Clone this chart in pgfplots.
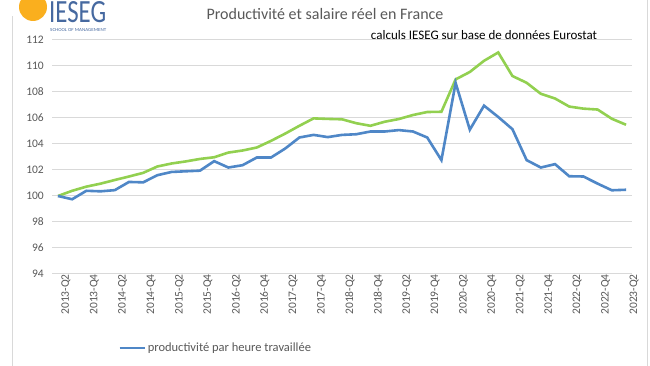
\documentclass[border=0pt]{standalone}
\usepackage{fontspec}
\setmainfont{Carlito}
\usepackage{graphicx}
\usepackage{pgfplots}
\usepackage{pgfplotstable}
\pgfplotsset{compat=1.18}
\definecolor{prodblue}{RGB}{79,135,199}
\definecolor{salgreen}{RGB}{146,208,80}
\definecolor{txtgray}{RGB}{89,89,89}
\definecolor{gridgray}{RGB}{217,217,217}
\definecolor{logoblue}{RGB}{70,105,160}
\definecolor{logoorange}{RGB}{250,175,30}

\pgfplotstableread{
i prod sal
0 100.00 100.00
1 99.75 100.40
2 100.40 100.72
3 100.36 100.95
4 100.45 101.23
5 101.08 101.50
6 101.05 101.78
7 101.60 102.27
8 101.85 102.50
9 101.90 102.66
10 101.95 102.85
11 102.68 102.98
12 102.19 103.34
13 102.37 103.50
14 102.96 103.73
15 102.96 104.24
16 103.65 104.80
17 104.50 105.40
18 104.70 105.97
19 104.53 105.93
20 104.70 105.90
21 104.75 105.60
22 104.96 105.40
23 104.96 105.71
24 105.07 105.92
25 104.96 106.23
26 104.50 106.46
27 102.76 106.48
28 108.70 108.97
29 105.10 109.54
30 106.95 110.40
31 106.08 111.04
32 105.14 109.23
33 102.76 108.71
34 102.19 107.86
35 102.45 107.50
36 101.52 106.88
37 101.50 106.72
38 100.95 106.65
39 100.44 105.94
40 100.48 105.48
}\datatable

\begin{document}
\begin{tikzpicture}[x=1pt,y=1pt]
\useasboundingbox (0,0) rectangle (650,366);
\fill[white] (0,0) rectangle (650,366);
% frame
\draw[gridgray, line width=1pt] (12.5,0) -- (12.5,350);
\draw[gridgray, line width=1pt] (647,0) -- (647,366);
% logo
\fill[logoorange] (33,359) circle (14);
\node[anchor=south west, inner sep=0, text=logoblue] at (49,343) {\resizebox{57pt}{21pt}{IESEG}};
\node[anchor=north west, inner sep=0, text=logoblue] at (50,338) {\resizebox{56pt}{3pt}{SCHOOL OF MANAGEMENT}};
% titles
\node[text=txtgray, font=\fontsize{16}{19}\selectfont] at (325,352) {Productivité et salaire réel en France};
\node[text=black, font=\fontsize{13}{15}\selectfont] at (484,331) {calculs IESEG sur base de données Eurostat};
\begin{axis}[
  at={(52pt,92pt)}, anchor=south west,
  scale only axis, width=580pt, height=234pt,
  xmin=-0.42, xmax=40.42, ymin=94, ymax=112,
  axis line style={draw=none},
  major tick length=0pt,
  ytick={94,96,...,112},
  ymajorgrids, grid style={gridgray, line width=1pt},
  xtick={0,2,...,40},
  xticklabels={2013-Q2,2013-Q4,2014-Q2,2014-Q4,2015-Q2,2015-Q4,2016-Q2,2016-Q4,2017-Q2,2017-Q4,2018-Q2,2018-Q4,2019-Q2,2019-Q4,2020-Q2,2020-Q4,2021-Q2,2021-Q4,2022-Q2,2022-Q4,2023-Q2},
  xticklabel style={rotate=90, anchor=east, font=\fontsize{11.5}{13}\selectfont, text=txtgray, inner sep=0pt, yshift=-8pt},
  yticklabel style={font=\fontsize{11.5}{13}\selectfont, text=txtgray, inner sep=0pt, anchor=east, xshift=-8pt},
  /pgf/number format/assume math mode=true,
  legend style={at={(axis description cs:0.1138,-0.316)}, anchor=west, draw=none, fill=none, inner sep=0pt, font=\fontsize{12.5}{14}\selectfont, text=txtgray, nodes={inner sep=2pt}},
  legend image code/.code={\draw[#1] (0pt,0pt) -- (25pt,0pt);},
  legend cell align=left,
]
\addplot[salgreen, line width=2.6pt, forget plot] table[x=i, y=sal] {\datatable};
\addplot[prodblue, line width=2.6pt] table[x=i, y=prod] {\datatable};
\addlegendentry{productivité par heure travaillée}
\end{axis}
\end{tikzpicture}
\end{document}
